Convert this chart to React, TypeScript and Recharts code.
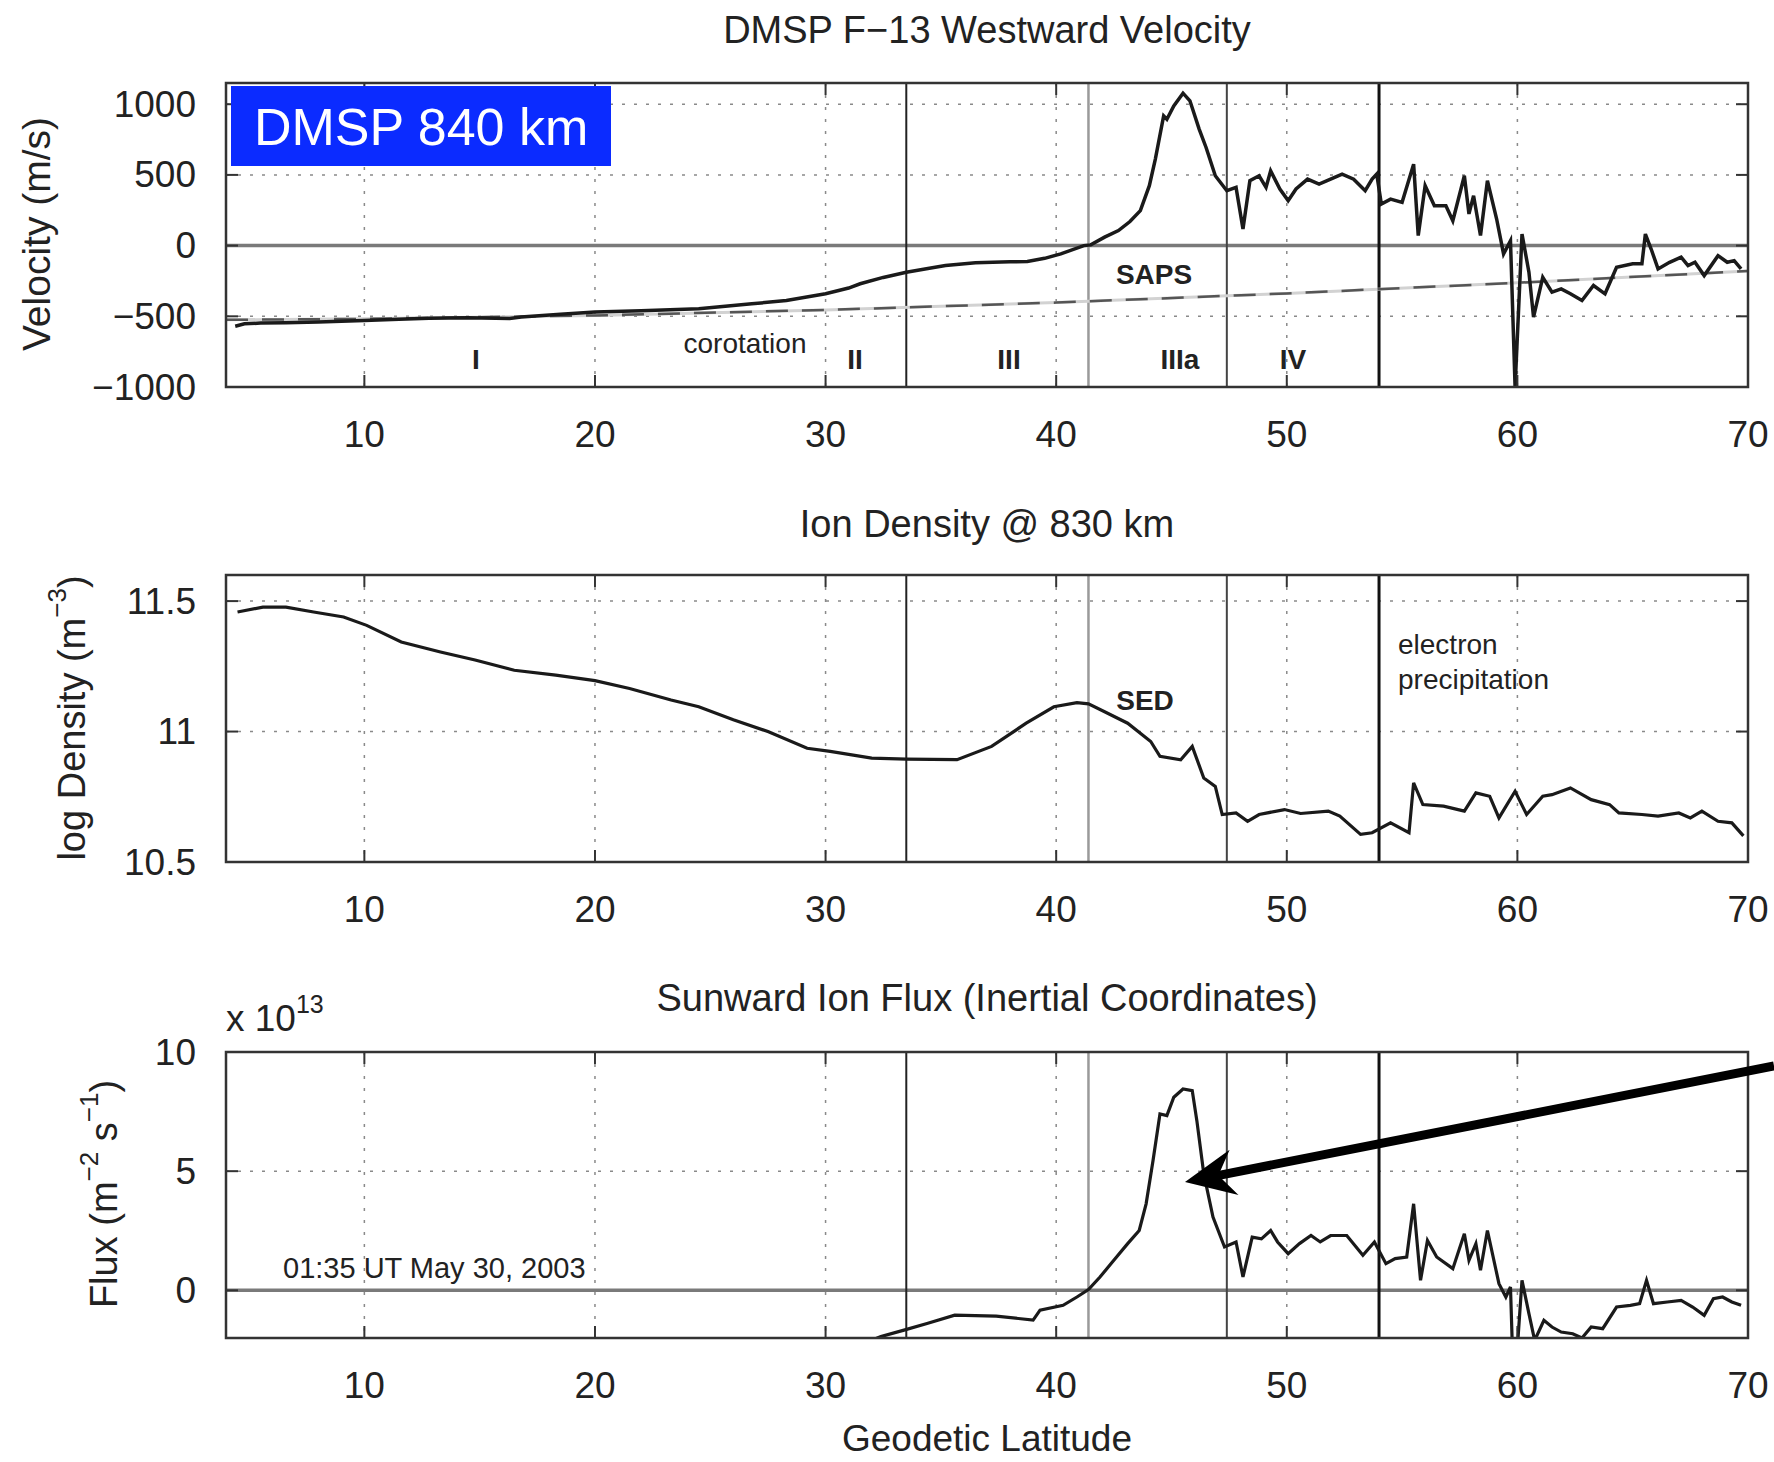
import React from "react";
import { LineChart, Line, XAxis, YAxis, CartesianGrid, ReferenceLine } from "recharts";

const W = 1774;
const H = 1462;
const PLOT_LEFT = 226;
const PLOT_RIGHT = 1748;
const FONT = "'Liberation Sans', Arial, Helvetica, sans-serif";
const INK = "#222";

const latTicks = [10, 20, 30, 40, 50, 60, 70];
const boundaryLats = [33.5, 41.4, 47.4, 54.0];
const boundaryColors = ["#222", "#9a9a9a", "#444", "#111"];
const boundaryWidths = [2, 2.5, 2, 3];

// panel 1: westward velocity (m/s)
const velLat = [4.4, 4.8, 5.5, 6.6, 8.0, 10.0, 11.5, 12.8, 14.5, 16.3, 16.8, 18.5, 20.0, 22.0, 24.5, 26.8, 28.3, 30.0, 31.0, 31.5, 32.5, 33.5, 34.5, 35.2, 36.5, 38.0, 38.75, 39.5, 40.2, 41.2, 41.5, 42.1, 42.7, 43.2, 43.65, 44.04, 44.3, 44.66, 44.8, 45.1, 45.5, 45.8, 46.2, 46.5, 46.9, 47.4, 47.8, 48.1, 48.4, 48.8, 49.1, 49.3, 49.7, 50.06, 50.4, 50.9, 51.4, 51.9, 52.4, 52.9, 53.4, 53.7, 53.9, 54.1, 54.5, 55.0, 55.5, 55.7, 56.0, 56.4, 56.9, 57.2, 57.7, 57.9, 58.1, 58.4, 58.7, 59.1, 59.4, 59.7, 59.9, 60.2, 60.5, 60.7, 61.1, 61.5, 61.9, 62.3, 62.8, 63.3, 63.8, 64.3, 65.0, 65.4, 65.55, 65.8, 66.1, 66.6, 67.1, 67.4, 67.7, 68.1, 68.7, 69.1, 69.4, 69.7];
const velVal = [-570, -553, -548, -546, -540, -529, -520, -513, -510, -516, -505, -485, -470, -460, -447, -412, -388, -341, -300, -270, -225, -188, -160, -141, -122, -115, -113, -90, -59, 0, 5, 60, 106, 170, 247, 424, 612, 918, 894, 988, 1078, 1024, 824, 694, 494, 388, 412, 118, 459, 494, 412, 529, 400, 318, 400, 470, 435, 470, 506, 470, 388, 470, 506, 294, 329, 306, 576, 71, 424, 282, 282, 176, 494, 224, 353, 71, 459, 188, -59, 35, -1000, 82, -188, -506, -224, -329, -306, -341, -388, -282, -341, -153, -129, -129, 82, -24, -165, -118, -82, -141, -118, -212, -71, -118, -106, -165];
const corotLat = [4, 10, 20, 30, 40, 50, 60, 70];
const corotVal = [-525, -518, -494, -455, -403, -338, -263, -180];
const velTicks = [-1000, -500, 0, 500, 1000];

// panel 2: log ion density
const denLat = [4.5, 5.6, 6.6, 7.8, 9.1, 10.1, 11.6, 13.3, 14.8, 16.5, 18.3, 20.0, 21.5, 23.3, 24.5, 26.0, 27.5, 29.2, 30.2, 32.0, 33.5, 35.7, 37.2, 38.7, 39.9, 40.9, 41.4, 42.1, 43.1, 44.1, 44.5, 45.4, 45.9, 46.4, 46.9, 47.2, 47.8, 48.3, 48.8, 49.9, 50.6, 51.8, 52.3, 53.2, 53.7, 54.5, 55.3, 55.5, 55.9, 56.8, 57.7, 58.2, 58.8, 59.2, 59.9, 60.4, 61.1, 61.5, 62.3, 63.2, 64.0, 64.4, 65.4, 66.1, 67.0, 67.5, 68.0, 68.7, 69.3, 69.8];
const denVal = [11.458, 11.477, 11.477, 11.458, 11.439, 11.407, 11.343, 11.305, 11.274, 11.235, 11.216, 11.195, 11.165, 11.121, 11.095, 11.045, 11.0, 10.936, 10.924, 10.898, 10.894, 10.892, 10.943, 11.032, 11.095, 11.111, 11.106, 11.076, 11.032, 10.962, 10.905, 10.892, 10.943, 10.822, 10.79, 10.682, 10.688, 10.656, 10.682, 10.701, 10.686, 10.695, 10.676, 10.606, 10.612, 10.65, 10.612, 10.803, 10.72, 10.714, 10.695, 10.765, 10.752, 10.669, 10.771, 10.682, 10.752, 10.758, 10.784, 10.739, 10.72, 10.688, 10.682, 10.676, 10.688, 10.669, 10.695, 10.656, 10.65, 10.6];
const denTicks = [10.5, 11, 11.5];

// panel 3: sunward ion flux (x 10^13)
const fluxLat = [31.2, 32.4, 33.4, 34.4, 35.6, 37.4, 39.0, 39.3, 40.3, 40.9, 41.4, 41.9, 42.5, 43.1, 43.6, 43.9, 44.2, 44.5, 44.8, 45.1, 45.5, 45.9, 46.1, 46.4, 46.8, 47.3, 47.8, 48.1, 48.5, 48.9, 49.3, 49.6, 50.06, 50.55, 51.05, 51.45, 51.9, 52.6, 53.3, 53.8, 54.3, 54.7, 55.2, 55.5, 55.8, 56.1, 56.5, 57.2, 57.7, 57.9, 58.2, 58.4, 58.7, 59.2, 59.5, 59.7, 59.85, 60.2, 60.5, 60.75, 61.15, 61.5, 61.9, 62.4, 62.8, 63.2, 63.7, 64.3, 64.9, 65.3, 65.6, 65.9, 66.5, 67.1, 67.6, 68.1, 68.5, 68.9, 69.3, 69.7];
const fluxVal = [-2.4, -1.94, -1.67, -1.39, -1.04, -1.08, -1.25, -0.83, -0.63, -0.28, 0.03, 0.56, 1.26, 1.96, 2.51, 3.63, 5.45, 7.4, 7.33, 8.1, 8.45, 8.38, 7.12, 4.89, 3.07, 1.82, 2.03, 0.56, 2.23, 2.16, 2.51, 2.03, 1.54, 1.96, 2.3, 2.03, 2.3, 2.3, 1.47, 2.03, 1.12, 1.33, 1.4, 3.63, 0.42, 2.09, 1.4, 0.91, 2.37, 1.26, 1.96, 0.84, 2.51, 0.28, -0.28, 0.14, -4.5, 0.42, -0.98, -2.1, -1.26, -1.54, -1.75, -1.82, -2.0, -1.54, -1.61, -0.7, -0.63, -0.56, 0.42, -0.56, -0.49, -0.42, -0.7, -1.05, -0.35, -0.28, -0.49, -0.63];
const fluxTicks = [0, 5, 10];

const zip = (lat: number[], val: number[]) => lat.map((l, i) => ({ lat: l, v: val[i] }));

type PanelCfg = {
  top: number;
  bottom: number;
  domain: [number, number];
  ticks: number[];
  fmt: (v: number) => string;
  zero: boolean;
};

const minus = (v: number) => (v < 0 ? "\u2212" + Math.abs(v) : String(v));

const panels: PanelCfg[] = [
  { top: 83, bottom: 387, domain: [-1000, 1150], ticks: velTicks, fmt: minus, zero: true },
  { top: 575, bottom: 862, domain: [10.5, 11.6], ticks: denTicks, fmt: (v) => String(v), zero: false },
  { top: 1052, bottom: 1338, domain: [-2, 10], ticks: fluxTicks, fmt: minus, zero: true },
];

function xTick(p: PanelCfg) {
  return (props: any) => {
    const { x, payload } = props;
    return (
      <g>
        <line x1={x} x2={x} y1={p.bottom} y2={p.bottom - 12} stroke="#333" strokeWidth={2} />
        <line x1={x} x2={x} y1={p.top} y2={p.top + 12} stroke="#333" strokeWidth={2} />
        <text x={x} y={p.bottom + 47} textAnchor="middle" dominantBaseline="central" fontSize={37} fill={INK} fontFamily={FONT}>
          {payload.value}
        </text>
      </g>
    );
  };
}

function yTick(p: PanelCfg) {
  return (props: any) => {
    const { y, payload } = props;
    return (
      <g>
        <line x1={PLOT_LEFT} x2={PLOT_LEFT + 12} y1={y} y2={y} stroke="#333" strokeWidth={2} />
        <line x1={PLOT_RIGHT} x2={PLOT_RIGHT - 12} y1={y} y2={y} stroke="#333" strokeWidth={2} />
        <text x={PLOT_LEFT - 30} y={y} textAnchor="end" dominantBaseline="central" fontSize={37} fill={INK} fontFamily={FONT}>
          {p.fmt(payload.value)}
        </text>
      </g>
    );
  };
}

function Panel({ cfg, series }: { cfg: PanelCfg; series: React.ReactNode }) {
  const margin = { top: cfg.top, right: W - PLOT_RIGHT, bottom: H - cfg.bottom - 80, left: 0 };
  return (
    <div style={{ position: "absolute", left: 0, top: 0 }}>
      <LineChart width={W} height={H} margin={margin}>
        <CartesianGrid stroke="#8a8a8a" strokeDasharray="3 9" strokeWidth={1.5} />
        <XAxis
          type="number"
          dataKey="lat"
          domain={[4, 70]}
          ticks={latTicks}
          interval={0}
          allowDataOverflow
          height={80}
          axisLine={false}
          tickLine={false}
          tickSize={0}
          tick={xTick(cfg)}
        />
        <YAxis
          type="number"
          domain={cfg.domain}
          ticks={cfg.ticks}
          interval={0}
          allowDataOverflow
          width={PLOT_LEFT}
          axisLine={false}
          tickLine={false}
          tickSize={0}
          tick={yTick(cfg)}
        />
        {cfg.zero && <ReferenceLine y={0} stroke="#7a7a7a" strokeWidth={3.5} />}
        {boundaryLats.map((b, i) => (
          <ReferenceLine key={b} x={b} stroke={boundaryColors[i]} strokeWidth={boundaryWidths[i]} />
        ))}
        {series}
      </LineChart>
    </div>
  );
}

function arrowPath(tail: [number, number], tip: [number, number]) {
  const dx = tip[0] - tail[0];
  const dy = tip[1] - tail[1];
  const len = Math.hypot(dx, dy);
  const ux = dx / len;
  const uy = dy / len;
  const nx = -uy;
  const ny = ux;
  const hl = 50;
  const hw = 23;
  const notch = 34;
  const bx = tip[0] - ux * hl;
  const by = tip[1] - uy * hl;
  const head = `M${tip[0]},${tip[1]} L${bx + nx * hw},${by + ny * hw} L${tip[0] - ux * notch},${tip[1] - uy * notch} L${bx - nx * hw},${by - ny * hw} Z`;
  const shaftEnd: [number, number] = [tip[0] - ux * (notch - 2), tip[1] - uy * (notch - 2)];
  return { head, shaftEnd };
}

export default function App() {
  const velData = zip(velLat, velVal);
  const corotData = zip(corotLat, corotVal);
  const denData = zip(denLat, denVal);
  const fluxData = zip(fluxLat, fluxVal);
  const arrow = arrowPath([1774, 1066], [1185, 1182]);

  const lineProps = { dataKey: "v", stroke: "#1a1a1a", strokeWidth: 3.2, dot: false, isAnimationActive: false, type: "linear" as const };

  return (
    <div style={{ position: "absolute", left: 0, top: 0, width: W, height: H, background: "#fff", fontFamily: FONT }}>
      <Panel
        cfg={panels[0]}
        series={[
          <Line key="c1" data={corotData} dataKey="v" stroke="#d2d2d2" strokeWidth={3} dot={false} isAnimationActive={false} type="linear" />,
          <Line key="c2" data={corotData} dataKey="v" stroke="#555" strokeWidth={2.5} strokeDasharray="22 14" dot={false} isAnimationActive={false} type="linear" />,
          <Line key="v" data={velData} {...lineProps} strokeWidth={3.5} />,
        ]}
      />
      <Panel cfg={panels[1]} series={[<Line key="d" data={denData} {...lineProps} />]} />
      <Panel cfg={panels[2]} series={[<Line key="f" data={fluxData} {...lineProps} />]} />

      <svg width={W} height={H} style={{ position: "absolute", left: 0, top: 0, pointerEvents: "none" }} fontFamily={FONT}>
        {panels.map((p, i) => (
          <rect key={i} x={PLOT_LEFT} y={p.top} width={PLOT_RIGHT - PLOT_LEFT} height={p.bottom - p.top} fill="none" stroke="#333" strokeWidth={2.5} />
        ))}

        {/* titles */}
        <text x={987} y={30} textAnchor="middle" dominantBaseline="central" fontSize={38} fill={INK}>DMSP F{"\u2212"}13 Westward Velocity</text>
        <text x={987} y={524} textAnchor="middle" dominantBaseline="central" fontSize={38} fill={INK}>Ion Density @ 830 km</text>
        <text x={987} y={998} textAnchor="middle" dominantBaseline="central" fontSize={38} fill={INK}>Sunward Ion Flux (Inertial Coordinates)</text>
        <text x={987} y={1438} textAnchor="middle" dominantBaseline="central" fontSize={37} fill={INK}>Geodetic Latitude</text>

        {/* axis labels */}
        <text x={36} y={234} transform="rotate(-90 36 234)" textAnchor="middle" dominantBaseline="central" fontSize={39} fill={INK}>Velocity (m/s)</text>
        <text x={72} y={718} transform="rotate(-90 72 718)" textAnchor="middle" dominantBaseline="central" fontSize={38} fill={INK}>
          <tspan>log Density (m</tspan>
          <tspan dy={-15} fontSize={26}>{"\u2212"}3</tspan>
          <tspan dy={15}>)</tspan>
        </text>
        <text x={104} y={1194} transform="rotate(-90 104 1194)" textAnchor="middle" dominantBaseline="central" fontSize={38} fill={INK}>
          <tspan>Flux (m</tspan>
          <tspan dy={-15} fontSize={26}>{"\u2212"}2</tspan>
          <tspan dy={15}> s</tspan>
          <tspan dy={-15} fontSize={26}>{"\u2212"}1</tspan>
          <tspan dy={15}>)</tspan>
        </text>
        <text x={226} y={1018} dominantBaseline="central" fontSize={37} fill={INK}>
          <tspan>x 10</tspan>
          <tspan dy={-14} fontSize={25}>13</tspan>
        </text>

        {/* annotations panel 1 */}
        <rect x={231} y={86} width={380} height={80} fill="#0b2bff" />
        <text x={254} y={127} dominantBaseline="central" fontSize={52} fill="#fff">DMSP 840 km</text>
        <text x={1154} y={274} textAnchor="middle" dominantBaseline="central" fontSize={28} fontWeight="bold" fill={INK}>SAPS</text>
        <text x={745} y={343} textAnchor="middle" dominantBaseline="central" fontSize={28} fill={INK}>corotation</text>
        <text x={476} y={359} textAnchor="middle" dominantBaseline="central" fontSize={28} fontWeight="bold" fill={INK}>I</text>
        <text x={855} y={359} textAnchor="middle" dominantBaseline="central" fontSize={28} fontWeight="bold" fill={INK}>II</text>
        <text x={1009} y={359} textAnchor="middle" dominantBaseline="central" fontSize={28} fontWeight="bold" fill={INK}>III</text>
        <text x={1180} y={359} textAnchor="middle" dominantBaseline="central" fontSize={28} fontWeight="bold" fill={INK}>IIIa</text>
        <text x={1293} y={359} textAnchor="middle" dominantBaseline="central" fontSize={28} fontWeight="bold" fill={INK}>IV</text>

        {/* annotations panel 2 */}
        <text x={1145} y={700} textAnchor="middle" dominantBaseline="central" fontSize={28} fontWeight="bold" fill={INK}>SED</text>
        <text x={1398} y={644} dominantBaseline="central" fontSize={28} fill={INK}>electron</text>
        <text x={1398} y={679} dominantBaseline="central" fontSize={28} fill={INK}>precipitation</text>

        {/* annotations panel 3 */}
        <text x={283} y={1268} dominantBaseline="central" fontSize={29} fill={INK}>01:35 UT May 30, 2003</text>
        <line x1={1774} y1={1066} x2={arrow.shaftEnd[0]} y2={arrow.shaftEnd[1]} stroke="#000" strokeWidth={9} />
        <path d={arrow.head} fill="#000" />
      </svg>
    </div>
  );
}
